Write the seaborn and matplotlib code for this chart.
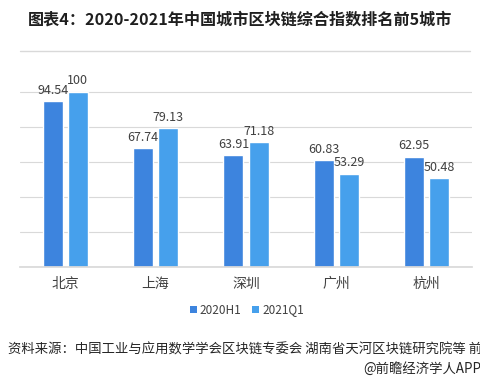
import matplotlib
matplotlib.use("Agg")
import matplotlib.pyplot as plt
import seaborn as sns
import pandas as pd
from matplotlib.lines import Line2D
from matplotlib.patches import Patch

cities = ["北京", "上海", "深圳", "广州", "杭州"]
series_names = ["2020H1", "2021Q1"]
v2020h1 = [94.54, 67.74, 63.91, 60.83, 62.95]
v2021q1 = [100, 79.13, 71.18, 53.29, 50.48]
colors = ["#3D84DE", "#46A0EC"]

df = pd.DataFrame({
    "city": cities * 2,
    "series": [series_names[0]] * 5 + [series_names[1]] * 5,
    "value": v2020h1 + v2021q1,
})

sns.set_theme(style="white")
plt.rcParams["font.family"] = ["Noto Sans CJK SC", "DejaVu Sans"]

fig = plt.figure(figsize=(4.81, 3.81), dpi=100)
ax = fig.add_axes([20 / 481, 1 - 267 / 381, 452 / 481, (267 - 60) / 381])

sns.barplot(data=df, x="city", y="value", hue="series", palette=colors,
            width=0.556, gap=0.2, ax=ax, legend=False, saturation=1)

ax.set_ylim(0, 118)
ax.set_xlim(-0.5, 4.5)
ax.set_yticks([0, 20, 40, 60, 80, 100])
ax.yaxis.grid(True, color="#D9D9D9", linewidth=0.8)
ax.set_axisbelow(True)
ax.tick_params(axis="y", left=False, labelleft=False)
ax.tick_params(axis="x", bottom=False, labelsize=10, labelcolor="#404040", pad=1)
for s in ["top", "right", "left"]:
    ax.spines[s].set_visible(False)
ax.spines["bottom"].set_color("#D9D9D9")
ax.set_xlabel("")
ax.set_ylabel("")

for cont in ax.containers:
    ax.bar_label(cont, labels=[f"{v:g}" for v in cont.datavalues],
                 padding=3, fontsize=9, color="#404040")

handles = [Patch(facecolor=c, edgecolor="none") for c in colors]
fig.legend(handles, series_names, loc="center", bbox_to_anchor=(247 / 481, 1 - 310 / 381),
           ncol=2, frameon=False, fontsize=8.5, handlelength=0.6, handleheight=0.6,
           handletextpad=0.25, columnspacing=0.9, labelcolor="#404040")

fig.text(240 / 481, 1 - 20 / 381, "图表4：2020-2021年中国城市区块链综合指数排名前5城市",
         ha="center", va="center", fontsize=11.6, fontweight="bold", color="#1F1F1F")
fig.add_artist(Line2D([20 / 481, 470 / 481], [1 - 51 / 381, 1 - 51 / 381],
                      color="#D9D9D9", linewidth=1))

fig.text(8 / 481, 1 - 350 / 381,
         "资料来源：中国工业与应用数学学会区块链专委会 湖南省天河区块链研究院等 前瞻产业研究院",
         ha="left", va="center", fontsize=9.6, color="#262626")
fig.text(481 / 481, 1 - 369 / 381, "@前瞻经济学人APP",
         ha="right", va="center", fontsize=9.6, color="#262626")

fig.savefig("out.png", dpi=100)
